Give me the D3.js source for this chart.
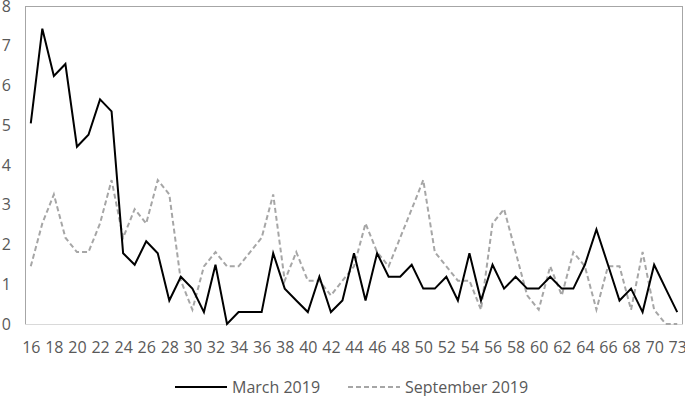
<!DOCTYPE html>
<html>
<head>
<meta charset="utf-8">
<script src="https://cdn.jsdelivr.net/npm/d3@7"></script>
<style>
  html, body { margin: 0; padding: 0; background: #fff; }
  svg { display: block; }
  text { font-family: "Open Sans", "Noto Sans", sans-serif; fill: #595959; }
</style>
</head>
<body>
<svg id="chart" width="685" height="396"></svg>
<script>
// Categories (x values); 72 absent in the source series
const categories = [16,17,18,19,20,21,22,23,24,25,26,27,28,29,30,31,32,33,34,35,36,37,38,39,40,41,42,43,44,45,46,47,48,49,50,51,52,53,54,55,56,57,58,59,60,61,62,63,64,65,66,67,68,69,70,71,73];

const march2019 = [5.05,7.43,6.24,6.54,4.46,4.76,5.65,5.35,1.78,1.49,2.08,1.78,0.59,1.19,0.89,0.30,1.49,0,0.30,0.30,0.30,1.78,0.89,0.59,0.30,1.19,0.30,0.59,1.78,0.59,1.78,1.19,1.19,1.49,0.89,0.89,1.19,0.59,1.78,0.59,1.49,0.89,1.19,0.89,0.89,1.19,0.89,0.89,1.49,2.38,1.49,0.59,0.89,0.30,1.49,0.89,0.30];

const september2019 = [1.45,2.53,3.26,2.17,1.81,1.81,2.53,3.62,2.17,2.89,2.53,3.62,3.26,1.09,0.36,1.45,1.81,1.45,1.45,1.81,2.17,3.26,1.09,1.81,1.09,1.09,0.72,1.09,1.45,2.53,1.81,1.45,2.17,2.89,3.62,1.81,1.45,1.09,1.09,0.36,2.53,2.89,1.81,0.72,0.36,1.45,0.72,1.81,1.45,0.36,1.45,1.45,0.36,1.81,0.36,0,0];

const yTicks = [0,1,2,3,4,5,6,7,8];
const xTickLabels = [16,18,20,22,24,26,28,30,32,34,36,38,40,42,44,46,48,50,52,54,56,58,60,62,64,66,68,70,73];

const seriesNames = ["March 2019", "September 2019"];

const svg = d3.select("#chart");
const pLeft = 25, pRight = 683, pTop = 6, pBottom = 324;

const x = d3.scalePoint().domain(categories).range([pLeft, pRight]).padding(0.5);
const y = d3.scaleLinear().domain([0, 8]).range([pBottom, pTop]);

// plot border
const g = svg.append("g");
g.append("line").attr("x1", pLeft + 0.5).attr("x2", pLeft + 0.5).attr("y1", pTop).attr("y2", pBottom).attr("stroke", "#a6a6a6");
g.append("line").attr("x1", pLeft).attr("x2", pRight).attr("y1", pTop + 0.5).attr("y2", pTop + 0.5).attr("stroke", "#a6a6a6");
g.append("line").attr("x1", pRight - 0.5).attr("x2", pRight - 0.5).attr("y1", pTop).attr("y2", pBottom).attr("stroke", "#a6a6a6");

// y axis labels
const yAxis = d3.axisLeft(y).tickValues(yTicks).tickSize(0).tickPadding(0).tickFormat(d3.format("d"));
const yg = svg.append("g").attr("transform", `translate(${11},0)`).call(yAxis);
yg.select(".domain").remove();
yg.selectAll("text").style("font-size", "16px").style("font-family", '"Open Sans", sans-serif').attr("fill", "#595959");

// x axis
const xAxis = d3.axisBottom(x)
  .tickValues(xTickLabels)
  .tickSize(0).tickPadding(18);
const xg = svg.append("g").attr("transform", `translate(0,${pBottom})`).call(xAxis);
xg.select(".domain").attr("stroke", "#d9d9d9").attr("d", `M${pLeft},0.5H${pRight}`);
xg.selectAll("text").style("font-size", "16px").style("font-family", '"Open Sans", sans-serif').attr("fill", "#595959");

const line = d3.line().x((d, i) => x(categories[i])).y(d => y(d));

svg.append("path").datum(september2019)
  .attr("fill", "none").attr("stroke", "#a6a6a6").attr("stroke-width", 2)
  .attr("stroke-dasharray", "5,3").attr("d", line);

svg.append("path").datum(march2019)
  .attr("fill", "none").attr("stroke", "#000").attr("stroke-width", 2)
  .attr("stroke-linejoin", "miter").attr("d", line);

// legend
const leg = svg.append("g");
const ly = 387;
leg.append("line").attr("x1", 175).attr("x2", 227).attr("y1", ly).attr("y2", ly).attr("stroke", "#000").attr("stroke-width", 2);
leg.append("text").attr("x", 232).attr("y", ly).attr("dy", "0.36em").style("font-size", "16px").text(seriesNames[0]);
leg.append("line").attr("x1", 348).attr("x2", 400).attr("y1", ly).attr("y2", ly).attr("stroke", "#a6a6a6").attr("stroke-width", 2).attr("stroke-dasharray", "5,3");
leg.append("text").attr("x", 405).attr("y", ly).attr("dy", "0.36em").style("font-size", "16px").text(seriesNames[1]);
</script>
</body>
</html>
